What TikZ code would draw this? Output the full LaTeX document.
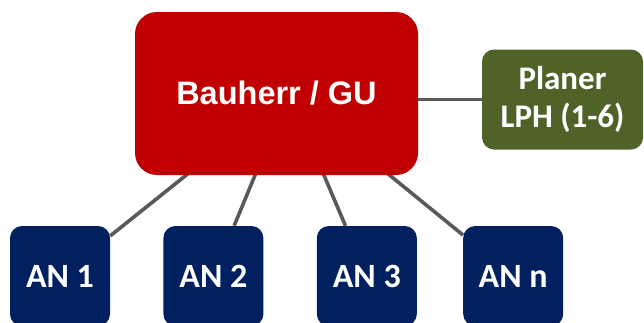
\documentclass[tikz,border=0pt]{standalone}
\usepackage{fontspec}
\newfontfamily\headfont{Liberation Sans}
\newfontfamily\boxfont{Carlito}
\usepackage{tikz}
\usetikzlibrary{positioning,backgrounds}
\definecolor{chefred}{HTML}{C00000}
\definecolor{planergreen}{HTML}{4F6228}
\definecolor{annavy}{HTML}{002060}
\definecolor{linkgray}{HTML}{595959}

\begin{document}
\begin{tikzpicture}
[x=1pt, y=-1pt,
every node/.style={text=white, inner sep=0pt, align=center},
chef/.style={fill=chefred, rounded corners=22pt, minimum width=283pt, minimum height=163pt,
  font=\headfont\bfseries\fontsize{32.5}{38}\selectfont},
planer/.style={fill=planergreen, rounded corners=12pt, minimum width=161pt, minimum height=100pt,
  font=\boxfont\bfseries\fontsize{33}{38}\selectfont},
an/.style={fill=annavy, rounded corners=12pt, minimum width=100pt, minimum height=100pt,
  font=\boxfont\bfseries\fontsize{34}{38}\selectfont},
link/.style={draw=linkgray, line width=3.6pt}
]
  \useasboundingbox (0,0) rectangle (644,322);
  \clip (0,0) rectangle (644,322);

  \node[chef]   (bau) at (276.5,93.5)   {Bauherr / GU};
  \node[planer] (pla) at (562.5,99.5)   {Planer\\LPH (1-6)};
  \node[an]     (an1) at (60,276)       {AN 1};
  \node[an]     (an2) [right=53pt of an1]  {AN 2};
  \node[an]     (an3) [right=53pt of an2]  {AN 3};
  \node[an]     (ann) [right=46pt of an3]  {AN n};
  \coordinate   (hub) at (289,93);

  \begin{pgfonlayer}{background}
  \path[link]
    (hub) edge (an1)
    (hub) edge (an2)
    (hub) edge (an3)
    (hub) edge (ann)
    ;
  \end{pgfonlayer}
  \path[link] (pla.west -| bau.east) -- (pla.west);
\end{tikzpicture}
\end{document}
